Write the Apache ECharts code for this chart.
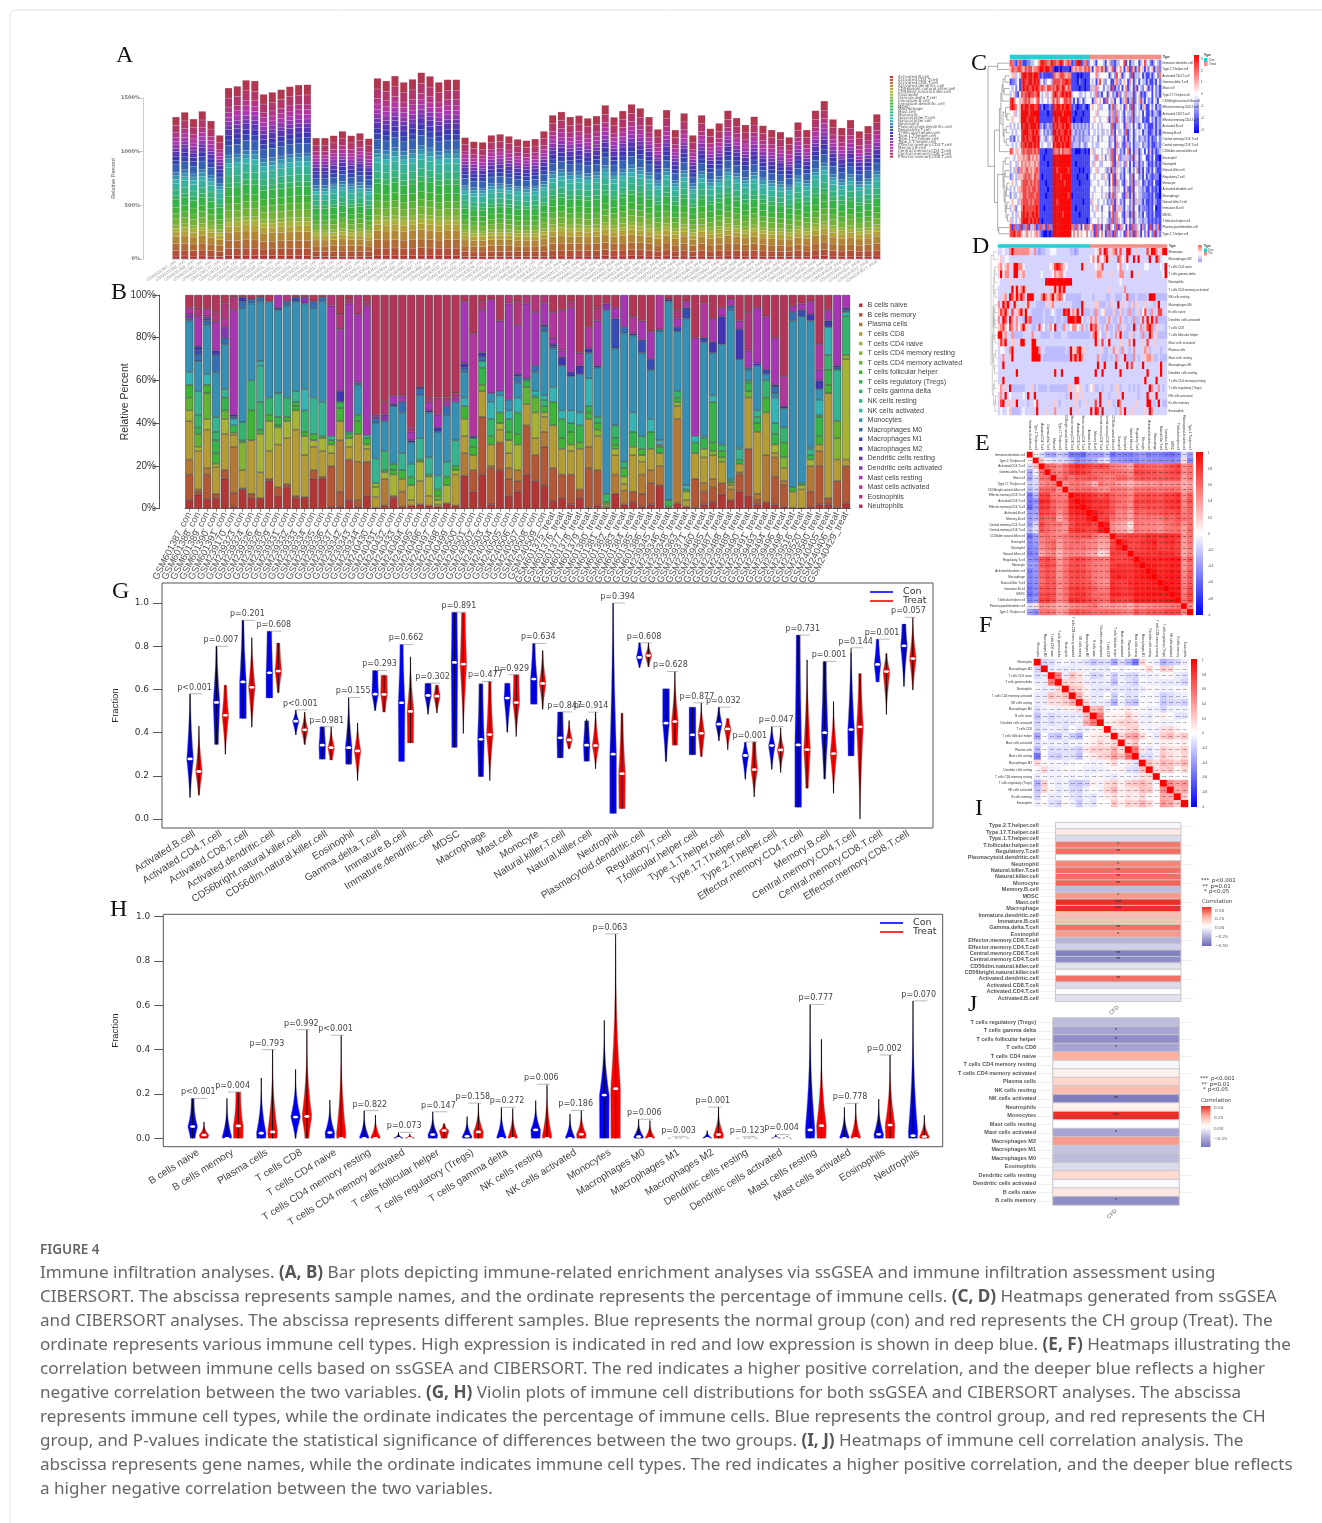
<!DOCTYPE html>
<html><head><meta charset="utf-8">
<style>html,body{margin:0;padding:0;background:#fff}#c{width:1322px;height:1523px}</style>
<script src="https://cdn.jsdelivr.net/npm/echarts@6/dist/echarts.min.js"></script>
</head><body><div id="c"></div>
<script>
// ---------- DATA ----------
const ssgseaCells=['Activated.B.cell','Activated.CD4.T.cell','Activated.CD8.T.cell','Activated.dendritic.cell','CD56bright.natural.killer.cell','CD56dim.natural.killer.cell','Eosinophil','Gamma.delta.T.cell','Immature.B.cell','Immature.dendritic.cell','MDSC','Macrophage','Mast.cell','Monocyte','Natural.killer.T.cell','Natural.killer.cell','Neutrophil','Plasmacytoid.dendritic.cell','Regulatory.T.cell','T.follicular.helper.cell','Type.1.T.helper.cell','Type.17.T.helper.cell','Type.2.T.helper.cell','Effector.memory.CD4.T.cell','Memory.B.cell','Central.memory.CD4.T.cell','Central.memory.CD8.T.cell','Effector.memory.CD8.T.cell'];
const ciberCells=['B cells naive','B cells memory','Plasma cells','T cells CD8','T cells CD4 naive','T cells CD4 memory resting','T cells CD4 memory activated','T cells follicular helper','T cells regulatory (Tregs)','T cells gamma delta','NK cells resting','NK cells activated','Monocytes','Macrophages M0','Macrophages M1','Macrophages M2','Dendritic cells resting','Dendritic cells activated','Mast cells resting','Mast cells activated','Eosinophils','Neutrophils'];
const samplesCon=['GSM601387','GSM601388','GSM601389','GSM601390','GSM601391','GSM239170','GSM239323','GSM239324','GSM239326','GSM239328','GSM239329','GSM239331','GSM239332','GSM239333','GSM239334','GSM239335','GSM239336','GSM239337','GSM239342','GSM239343','GSM239344','GSM240430','GSM240431','GSM240432','GSM240433','GSM240494','GSM240495','GSM240496','GSM240497','GSM240498','GSM240499','GSM240500','GSM240501','GSM240502','GSM240503','GSM240504','GSM240505','GSM240506','GSM240507','GSM240508','GSM240509'];
const samplesTreat=['GSM601375','GSM601376','GSM601377','GSM601378','GSM601379','GSM601380','GSM601381','GSM601382','GSM601383','GSM601384','GSM601385','GSM601386','GSM239345','GSM239346','GSM239348','GSM239363','GSM239371','GSM239460','GSM239485','GSM239487','GSM239488','GSM239489','GSM239490','GSM239491','GSM239493','GSM239494','GSM239496','GSM239498','GSM239516','GSM239520','GSM239580','GSM240405','GSM240406','GSM240429'];
const samplesB=samplesCon.map(s=>s+'_con').concat(samplesTreat.map(s=>s+'_treat'));
const samplesA=samplesCon.concat(['GSM240510','GSM240511']).map(s=>s+'_con').concat(samplesTreat.concat(['GSM240430','GSM240431','GSM240432','GSM240433']).map(s=>s+'_treat'));
// Panel A: height of each bar (%) and the typical score of each layer
const barTotalsA=[1323,1367,1304,1376,1286,1152,1593,1609,1665,1659,1534,1553,1578,1606,1621,1624,1127,1127,1149,1190,1149,1171,1121,1683,1659,1705,1646,1674,1736,1702,1646,1671,1671,1131,1093,1087,1152,1162,1143,1115,1103,1118,1190,1339,1370,1323,1336,1311,1332,1432,1320,1379,1441,1404,1323,1208,1388,1202,1357,1152,1339,1214,1264,1382,1314,1249,1326,1242,1202,1183,1134,1273,1202,1382,1472,1301,1221,1295,1190,1239,1348];
const layerScoreA=[27.8,54,63.5,67.7,45.3,34.2,33,57.8,53.8,57.2,72.5,36.9,56,64.8,37.6,34.2,30,74.8,44.4,39,43.9,29.4,34,34.3,40,41.4,71.6,80.2];
// Panel B: per sample, [layer, cumulative top %, layer, cumulative top %, ...]
const stackB=[
[0,4,1,16,2,23,3,41,4,46,6,52,7,58,11,64,12,88,13,89,17,91,19,94,21,100],
[0,6.5,1,8,2,9,3,27,4,29,6,35,8,38,9,44,10,55,12,69,13,72,14,74,15,76,18,90,20,94,21,100],
[0,4.5,1,16,2,19,3,37,4,42,6,54,7,58,11,63,12,86,13,88,14,89,17,90,19,93.5,21,100],
[0,5,1,7,3,19.5,4,21,7,26,8,32,9,36,10,43,12,64,13,72,15,74,18,87.5,20,92,21,100],
[0,14,1,18,3,35,4,42,6,46,8,52,10,56,12,77,13,80,17,85,19,89,20,96,21,100],
[0,1,1,7.5,2,29,3,34.5,4,35.5,8,39,11,42,13,43,15,44,18,93,20,99,21,100],
[0,9,1,9.5,3,18,5,31,8,32,9,40.5,12,94,13,97,15,99,21,100],
[0,5,1,7,3,32,7,46,9,60,12,96,13,98,21,100],
[0,5,3,17,4,35,7,37,9,50,10,67,11,69,12,97,13,99,21,100],
[0,13,1,14,3,27,4,41,7,44,9,52,12,97,21,100],
[0,6,1,10,3,30,4,38,7,39,8,43,10,54,12,93,14,94,18,100],
[0,10,1,11.5,3,33,4,41,7,43,9,52,12,95,13,97,20,100],
[0,5,1,6,3,37,4,46,7,48,8,50,10,55,12,97,14,99,21,100],
[0,5.5,3,25,4,34,7,36,9,46,11,56,12,96,17,99,21,100],
[0,14,1,18,3,29,4,32,7,35,10,52,12,94,13,97,21,100],
[0,14,1,15,3,27,4,33,7,34,10,50,12,97,13,99,21,100],
[0,1,1,20,3,26,4,30,7,32,10,34,18,95,20,100],
[0,1,1,8,2,32,3,41,7,47,8,50,15,55,18,84,20,91,21,100],
[0,4,1,23,3,29,4,33,7,35,10,36,18,96,20,98,21,100],
[0,1,1,4,2,22,3,35,7,41,8,44,12,58,13,59,18,91,20,100],
[0,6,1,22,3,28,4,30,7,33,10,34.5,18,95,20,97,21,100],
[0,0.5,3,5.5,4,10,5,12,10,23.5,12,40,13,42,17,43,18,44,21,100],
[0,1.5,2,14,4,17,7,18,9,27,12,41,17,44,20,50,21,100],
[0,5,1,6,4,16,7,18,8,21,12,48,15,49,18,53,21,100],
[0,1,2,8,3,14,7,18,10,26,12,45,13,50,18,53,21,100],
[0,1.5,3,4,4,11,8,15,10,21,12,31,15,32,18,36,20,38,21,100],
[0,2,3,13,4,22,7,23,10,33,12,53,13,56,15,57,21,100],
[0,1.5,3,6,4,15,7,16,10,24,12,45,15,46,18,50,20,52,21,100],
[0,1,3,2,4,4,6,6,7,9,10,15.5,12,36,15,38,18,44,20,52,21,100],
[0,2.5,4,11,7,15,10,22,12,44,13,48,18,50,20,52,21,100],
[0,1.5,3,16,4,18,7,20,10,32,12,50,18,52,20,54,21,100],
[0,15.5,2,26,3,34,4,42,7,48,11,52,12,64,13,66,15,68,18,97,21,100],
[0,8,1,18,3,25,7,29,8,33,15,34,19,82,21,100],
[0,16,1,43,3,55,6,58,8,66,10,69,13,71,15,73,18,93,20,97,21,100],
[0,2,1,19,2,20,3,30,7,34,9,42,11,50,12,54,18,98,21,100],
[0,18,1,31,3,37,4,40,7,45,11,53,12,55,18,88,21,100],
[0,6,1,14,2,19,3,26,4,32,7,36,8,42,11,46,12,51,18,96,20,100],
[0,8,1,13,2,18,4,30,7,35,8,45,11,52,12,59,13,62,15,63,18,86,20,97,21,100],
[0,16,1,39,3,49,6,57,8,60,13,61,18,96,20,100],
[0,13,1,25,3,33,4,45,6,52,9,53,11,55,12,64,13,67,18,92,20,100],
[0,11,1,29,2,36,3,43,4,45,7,48,9,51,11,53,12,83,13,85,15,86,18,96,20,100],
[0,3.5,1,19,3,39,7,50,11,57,12,75,13,76,15,77,18,80,19,92,21,100],
[0,5,1,16,3,28,7,33,8,42,11,46,12,67,15,71,18,74,19,93,21,100],
[0,2,1,16,3,27,4,30,7,36,8,40,11,46,12,62,15,64,18,94,20,97,21,100],
[0,5,1,9,3,28,6,31,8,39,11,45,12,63,15,67,19,73,21,100],
[0,0.5,1,19,2,29,3,42,7,45,8,48,11,61,12,73,15,75,19,85,21,100],
[0,1.5,1,18,3,34,5,37,7,40,9,43,12,66,15,67,18,88,20,94,21,100],
[0,0.5,3,1,4,2,6,3,9,7,12,93,17,96,21,100],
[0,7,2,16,3,25,4,28,7,30,8,33,9,39,12,75,14,89,18,94,21,100],
[0,2,2,8.5,3,11.5,4,15,7,19,9,22,12,82,13,85,18,100],
[0,3,1,8,3,25,4,29,8,36,11,45,12,81,15,82,19,90,21,100],
[0,1,1,7,2,16,3,22,4,25,7,28,9,34,12,73,14,79,18,88,21,100],
[0,2,1,12,2,18,3,28,8,36,11,42,12,65,14,70,18,83,21,100],
[0,11,2,20,3,26,8,29,9,30,11,32,12,83,13,84,19,100],
[0,0.5,5,1,8,4,12,97,15,98,21,100],
[0,2.5,2,42,3,48,5,50,8,52,9,55,12,83,14,85,18,89,20,93,21,100],
[0,1,3,4,4,8,8,9,11,11,12,89,14,94,18,97,21,100],
[0,0.5,1,14,3,26,8,31,11,34,18,80,21,100],
[0,2,1,8,2,12,3,24,4,28,8,33,11,34,12,78,14,80,19,96,21,100],
[0,3,1,10,2,14,3,25,5,27,7,31,8,50,11,53,12,73,15,78,18,89,21,100],
[0,6.5,1,12,3,22,5,24,7,27,9,30,12,77,15,90,18,94,21,100],
[0,4,2,9,3,11,4,12,8,13,10,14,12,93,13,95,18,98,21,100],
[0,8,1,16,2,17,3,21,8,23,10,28,11,29,12,70,15,84,18,88,21,100],
[0,6,1,28,3,52,6,55,8,59,9,60,12,65,13,66,18,74,20,92,21,100],
[0,2,1,4,2,7,3,36,7,40,9,43,10,46,12,67,15,68,18,94,21,100],
[0,3,2,25,3,45,7,52,9,60,12,63,14,65,18,90,21,100],
[0,2,1,15,2,24,3,26,4,30,8,35,9,40,11,52,12,54,13,57,15,58,18,80,21,100],
[0,1,1,11,2,13,3,19,5,24,7,31,9,38,12,47,15,48,19,62,21,100],
[0,0.5,3,8,7,10,12,88,13,92,18,95,21,100],
[0,0.3,3,9,4,11,8,12,12,90,14,93,18,96,21,100],
[0,1,1,8,2,20,4,23,8,25,10,28,11,29,12,88,15,91,18,97,21,100],
[0,2,1,20,2,27,3,30,7,34,8,43,9,44,11,51,12,56,15,60,18,65,19,77,21,100],
[0,2,1,5,3,54,7,58,8,65,9,72,11,85,15,88,18,93,21,100],
[0,0.5,1,13,3,23,5,33,6,41,10,65,13,66,15,67,18,100],
[0,2.5,1,20,3,23,4,70,5,72,9,90,11,92,13,93,15,94,18,100]];
// Panel C heatmap: one digit per sample, 0 deep blue .. 4 white .. 8 deep red
const rowsC=['Immature.dendritic.cell','Type.2.T.helper.cell','Activated.CD4.T.cell','Gamma.delta.T.cell','Mast.cell','Type.17.T.helper.cell','CD56bright.natural.killer.cell','Effector.memory.CD8.T.cell','Activated.CD8.T.cell','Effector.memory.CD4.T.cell','Activated.B.cell','Memory.B.cell','Central.memory.CD4.T.cell','Central.memory.CD8.T.cell','CD56dim.natural.killer.cell','Eosinophil','Neutrophil','Natural.killer.cell','Regulatory.T.cell','Monocyte','Activated.dendritic.cell','Macrophage','Natural.killer.T.cell','Immature.B.cell','MDSC','T.follicular.helper.cell','Plasmacytoid.dendritic.cell','Type.1.T.helper.cell'];
const cellsC=[
"762167 2112233445 7877668 7767875676 1278812672 4431444314 5221334471 4133441347 34213432",
"576677 6576775667 8878877 1001011110 6565665767 5146657516 4371546415 6175137451 52451362",
"455345 7887887887 1211111 7656776566 1110101111 4446344444 1342745134 4271333413 11313426",
"122341 7877887878 3423443 7777677877 1110211011 4341574324 4115632454 1641341433 13113142",
"434241 7878778787 6765776 7687687576 1111011011 3536344243 5171324146 1341614324 51314231",
"345214 7677877678 4345345 7876787878 3444334344 3436231441 5423162436 3351245121 34414231",
"786445 5676755467 4344345 7576457767 3141341344 4135454172 4351441356 1361243731 42314314",
"787645 8788788778 1201121 8788787887 1210112101 4544533444 1372543416 4271343135 11424132",
"445345 8888788888 1111011 8888878888 1101110111 4445344444 2362634314 3361343414 11313321",
"454445 8887888788 1111111 7887888878 1011101111 4454434445 1362734315 3261333412 11423132",
"343434 8788788878 2312322 8787787887 3232323232 4344343444 4271334416 3341431342 31113132",
"434344 7888778787 3423232 8878778878 3323232332 4434343343 4261433427 1341343413 31123131",
"231434 7878778878 3432343 7887878787 3233232333 4344243444 2351544315 1341342332 31312242",
"434345 7787887878 4344334 8788787887 2333243234 4343344444 2341634216 3241333423 31311232",
"764554 6767776767 1110111 7667576667 1100011010 4534443443 5271542314 6141351341 41513123",
"443455 5656756565 1101111 8888888888 1111111111 4436345424 5271462335 3261541344 11314110",
"344354 6565655656 1111011 8888888888 1101111111 4354433444 4371353426 4141351324 31213121",
"343526 6567565676 1111111 8878888878 1111010111 3445344432 5162543314 3142461314 21314211",
"234355 5676765766 1011111 8888788888 1110111101 4434443543 1471542314 4261442314 13212220",
"454344 6777676767 1110111 8888887888 1111011111 3444344434 1471634215 4261353412 31214110",
"343455 6776767767 1111011 8888888888 1111111111 4434443444 2462534415 2161443323 11312120",
"243345 5776777677 1110111 8888888878 0111111111 4344443435 1372544216 3151543322 21213110",
"454435 6777676777 1111111 8878888888 1111110111 3544344342 3261542314 4251353313 11213211",
"345244 6877777787 1101111 8888888888 1101111111 4345342444 2471535314 3251441322 21214011",
"434354 7878778787 1111111 8888878888 1111011111 4434443444 1372644215 3161542314 21213111",
"534345 7888787878 1011111 8888888888 1111111101 3444343443 2272634315 4251343323 31212121",
"717227 1267153612 7261722 8888888888 6272514726 4617261427 1542716341 5172634162 41715261",
"778677 5456454565 2100101 8888888888 4646454464 3517246416 2617243417 5261735142 51427152"];
// Panel D heatmap
const rowsD=['Monocytes','Macrophages M2','T cells CD4 naive','T cells gamma delta','Neutrophils','T cells CD4 memory activated','NK cells resting','Macrophages M0','B cells naive','Dendritic cells activated','T cells CD8','T cells follicular helper','Mast cells activated','Plasma cells','Mast cells resting','Macrophages M1','Dendritic cells resting','T cells CD4 memory resting','T cells regulatory (Tregs)','NK cells activated','B cells memory','Eosinophils'];
const cellsD=[
"3343368666 6666536212 2334443333 33221233333 3345738735 6737338833 53333758863588",
"4534433333 3333333333 3333333333 33333333333 4647346853 3376438338 38333383386344",
"5645635886 6433333333 3334578765 43333338353 3345573333 3346334333 33334433333438",
"3846633883 5633333334 3333465664 33333333333 3356653335 3336633383 35333333333348",
"4333353333 3333333333 3888888888 88833333333 3333333333 3334333333 33333333333333",
"3333338385 6853333333 3333585868 33333333333 3333333353 3333363333 33333333333333",
"3356387586 8638883336 8656856764 22222223333 3233333223 3222337222 32222388822222",
"6386823853 3357333222 2535633333 33322228533 3355222325 3383533252 53335333258333",
"5768537356 8583322222 3223432228 78365838222 3262345222 5225232622 35247326337733",
"6387386363 3286722222 3222232232 28887884233 6363222363 2236322326 22373858272222",
"5675476364 6853322373 4236482326 33466436323 8675323622 3262532238 23625786253332",
"8856336222 2333363332 2223322233 32222222222 3685422532 3638322352 33262386352222",
"3768335533 8833388533 3333333333 33333333333 3385373383 3335333638 33353733533333",
"3443368333 3333388863 3222222222 32855785533 3333352233 6352633236 33336523333233",
"3363358333 3333388883 2222222222 22868686333 3336322232 3623382226 32335665223222",
"3383333333 3333333333 3333333333 33333333333 3338338333 3833338373 33383333333833",
"3333333383 3333333333 3333383383 33333333333 3383383333 3338333333 33333833333833",
"3383333333 3333333333 3333333333 33338833333 3333333333 3333333333 33338333383333",
"4635382222 2233352322 2232222222 25535453323 4522323332 3552333232 32333386336323",
"3638343333 3438338333 3333333333 23835535333 3333833323 3353833333 32333835383333",
"3783535383 3332334733 3333353233 33335323353 3373833353 2386333333 53333883238322",
"3433452222 3433333833 3533363333 33833533333 8387383333 3236383353 33335386333333"];
const dendroC=[[0,1,.55],[2,3,.2],[4,5,.25],[29,30,.3],[31,6,.35],[8,9,.12],[7,33,.18],[10,11,.15],[12,13,.15],[35,36,.25],[34,37,.3],[32,38,.4],[39,14,.47],[15,16,.2],[17,18,.2],[19,20,.12],[21,43,.15],[22,23,.12],[24,25,.1],[45,46,.16],[44,47,.2],[42,48,.25],[41,49,.3],[26,27,.5],[50,51,.55],[40,52,.7],[28,53,1]];
const dendroD=[[2,3,.4],[22,4,.5],[5,6,.35],[23,24,.55],[7,8,.4],[9,10,.35],[26,27,.5],[11,12,.4],[28,29,.55],[25,30,.65],[13,14,.3],[15,16,.45],[32,33,.55],[31,34,.7],[17,18,.5],[19,20,.3],[37,21,.4],[36,38,.6],[35,39,.8],[0,1,.6],[41,40,1]];
// Panel E correlations (x100), lower triangle
const rowsE=rowsC;
const corrE=[[],[3],[-10,14],[-25,-5,45],[-27,-10,42,42],[-15,-10,30,36,35],[-20,-12,44,46,48,26],[-45,-21,61,62,40,38,36],[-45,-35,73,70,50,40,43,78],[-50,-30,67,65,48,36,42,76,85],[-30,-27,60,56,51,30,43,70,79,76],[-30,-22,52,45,49,20,36,64,68,66,82],[-30,-12,58,45,42,38,30,55,67,66,67,57],[-20,-8,52,45,38,30,28,62,69,66,58,60,78],[-48,-30,38,44,38,33,40,48,52,50,52,42,30,32],[-38,-30,34,42,46,25,37,42,45,40,34,33,24,24,58],[-40,-33,30,38,45,22,36,44,40,42,36,32,20,22,60,72],[-42,-36,22,32,35,18,28,34,34,32,24,22,8,12,62,60,56],[-36,-36,54,62,50,25,40,56,62,58,50,42,40,38,64,58,58,62],[-30,-30,50,58,54,26,40,54,58,52,44,38,36,34,62,68,64,64,74],[-42,-32,47,56,50,28,42,58,62,58,48,40,35,36,72,70,68,68,74,78],[-40,-34,45,56,50,26,40,56,60,56,48,38,34,34,70,76,70,66,75,80,86],[-40,-36,42,50,50,32,38,54,56,54,50,38,30,28,68,62,60,70,75,72,74,75],[-46,-36,50,55,52,28,42,62,66,62,56,48,38,38,72,68,62,68,76,74,78,78,80],[-48,-38,55,60,55,30,42,62,68,66,54,44,42,40,72,72,66,68,82,80,84,84,84,82],[-40,-34,62,65,54,32,40,70,72,68,60,52,46,42,68,62,60,62,82,78,80,80,78,84,86],[-10,8,30,30,24,20,22,30,34,32,36,40,26,24,28,24,24,20,32,26,30,32,34,36,38,40],[-28,-38,40,42,38,24,30,48,54,48,46,42,42,44,42,40,36,34,52,44,50,52,50,58,60,58,32]];
// Panel F correlations (x100), lower triangle
const rowsF=['Monocytes','Macrophages M2','T cells CD4 naive','T cells gamma delta','Neutrophils','T cells CD4 memory activated','NK cells resting','Macrophages M0','B cells naive','Dendritic cells activated','T cells CD8','T cells follicular helper','Mast cells activated','Plasma cells','Mast cells resting','Macrophages M1','Dendritic cells resting','T cells CD4 memory resting','T cells regulatory (Tregs)','NK cells activated','B cells memory','Eosinophils'];
const corrF=[[],[-12],[-10,-6],[-5,-5,35],[-2,-6,-5,10],[-6,-6,15,10,15],[-5,-5,8,8,12,20],[-9,-4,-3,-5,4,4,10],[-17,-5,-12,-7,-6,-7,-6,15],[-12,-5,-10,-6,-8,-6,-4,20,38],[-10,-6,-4,-5,-8,0,-7,-5,2,4],[-26,0,-14,-18,-6,-14,-22,0,4,6,6],[-10,-4,-5,-3,-7,-3,-4,2,4,10,5,10],[-20,0,-10,-8,-8,-9,-14,6,12,12,10,20,8],[-45,0,-12,-14,-8,-8,-18,2,5,10,12,25,15,40],[10,2,-3,-2,-5,-2,0,-2,-4,-4,2,10,-2,5,-8],[-2,10,-5,-4,2,-2,-2,-5,-6,-4,-4,2,3,-8,-10,15],[-6,-2,-4,-4,-2,-4,-2,-4,-2,2,-4,-6,-3,-3,-4,8,8],[-22,12,-2,-6,-4,-14,-16,-12,4,-4,8,12,4,12,14,18,12,-2],[-16,10,2,-6,-4,-10,-12,-4,0,-4,10,18,4,8,8,15,14,-2,32],[-12,0,-6,-6,-2,-6,-10,-4,-8,-2,4,8,2,6,4,10,2,0,22,20],[-5,2,-8,-12,2,-4,-14,-4,-8,0,0,14,4,12,10,18,10,-2,26,22,12]];
// Panel G violins: [low, high, median, width at low end, width at high end]
const gCon=[[.10,.58,.278,.1,.1],[.345,.80,.54,.6,.2],[.465,.92,.635,1,.3],[.56,.87,.677,1,.7],[.39,.505,.453,.1,.1],[.277,.427,.342,.9,.7],[.253,.563,.33,.9,.05],[.502,.688,.578,.2,.8],[.266,.808,.538,.9,.5],[.485,.629,.572,.1,.9],[.331,.958,.725,.8,.8],[.196,.626,.369,.8,.6],[.402,.629,.56,.15,.8],[.532,.813,.648,1,.4],[.283,.496,.376,.9,.8],[.267,.464,.342,.8,.6],[.026,1.0,.30,1,.1],[.702,.816,.748,.2,.3],[.266,.603,.444,.2,1],[.297,.518,.39,1,1],[.362,.518,.439,.1,.2],[.184,.355,.294,.1,.3],[.23,.428,.34,.1,.1],[.054,.852,.343,1,.6],[.185,.73,.40,.3,.5],[.292,.793,.414,.9,.1],[.635,.833,.716,.5,.4],[.614,.903,.802,.1,.6]];
const gTreat=[[.11,.43,.22,.2,.02],[.30,.62,.48,.05,.4],[.425,.84,.61,.05,.02],[.585,.815,.685,.3,.5],[.345,.495,.413,.2,.1],[.273,.427,.33,.4,.02],[.178,.445,.315,.02,.02],[.495,.666,.577,.4,.9],[.352,.751,.498,.9,.02],[.491,.62,.569,.1,.5],[.396,.955,.717,.02,.6],[.178,.637,.391,.02,.4],[.382,.668,.539,.02,.8],[.508,.78,.628,.1,.1],[.325,.456,.366,.3,.05],[.233,.495,.34,.02,.1],[.048,.49,.21,.9,.3],[.705,.816,.757,.2,.05],[.342,.683,.451,.8,.02],[.289,.538,.397,.3,.02],[.321,.465,.417,.02,.4],[.102,.357,.229,.02,.5],[.215,.423,.32,.02,.02],[.142,.737,.321,.4,.02],[.119,.544,.303,.02,.02],[0,.674,.427,0,.4],[.484,.767,.683,0,.2],[.598,.934,.743,.1,.02]];
const gP=['p<0.001','p=0.007','p=0.201','p=0.608','p<0.001','p=0.981','p=0.155','p=0.293','p=0.662','p=0.302','p=0.891','p=0.477','p=0.929','p=0.634','p=0.847','p=0.914','p=0.394','p=0.608','p=0.628','p=0.877','p=0.032','p=0.001','p=0.047','p=0.731','p=0.001','p=0.144','p=0.001','p=0.057'];
// Panel H violins
const hCon=[[0,.18,.053,.5,.3],[0,.18,.0,.9,.02],[0,.272,.023,.9,.02],[0,.311,.096,.1,.02],[0,.173,.026,.9,.02],[0,.125,0,.9,.02],[0,.027,0,.9,.02],[0,.12,.017,.9,.02],[0,.098,.009,.9,.02],[0,.14,0,.9,.02],[0,.17,.038,.9,.02],[0,.11,0,.9,.02],[0,.532,.195,.95,.02],[0,.086,.008,.9,.02],[0,.007,0,.9,.02],[0,.035,0,.5,.02],[0,.004,0,.9,.02],[0,.017,0,.9,.02],[0,.604,.038,.9,.02],[0,.14,0,.9,.02],[0,.177,.018,.9,.02],[0,.62,.012,.9,.02]];
const hTreat=[[0,.074,.015,.8,.02],[0,.209,.056,.95,.5],[0,.40,.029,.9,.02],[0,.49,.099,.4,.02],[0,.465,0,.9,.02],[0,.105,0,.9,.02],[0,.02,0,.9,.02],[0,.066,.035,.6,.2],[0,.159,.029,.9,.02],[0,.135,0,.9,.02],[0,.244,0,.9,.02],[0,.126,.018,.9,.02],[0,.922,.224,.95,.02],[0,.08,0,.9,.02],[0,.004,0,.9,.02],[0,.141,.017,.9,.02],[0,.007,0,.9,.02],[0,.009,0,.9,.02],[0,.447,.057,.9,.02],[0,.158,0,.9,.02],[0,.376,.06,.9,.02],[0,.104,.008,.9,.02]];
const hP=['p<0.001','p=0.004','p=0.793','p=0.992','p<0.001','p=0.822','p=0.073','p=0.147','p=0.158','p=0.272','p=0.006','p=0.186','p=0.063','p=0.006','p=0.003','p=0.001','p=0.123','p=0.004','p=0.777','p=0.778','p=0.002','p=0.070'];
// Panel I / J
const rowsI=['Type.2.T.helper.cell','Type.17.T.helper.cell','Type.1.T.helper.cell','T.follicular.helper.cell','Regulatory.T.cell','Plasmacytoid.dendritic.cell','Neutrophil','Natural.killer.T.cell','Natural.killer.cell','Monocyte','Memory.B.cell','MDSC','Mast.cell','Macrophage','Immature.dendritic.cell','Immature.B.cell','Gamma.delta.T.cell','Eosinophil','Effector.memory.CD8.T.cell','Effector.memory.CD4.T.cell','Central.memory.CD8.T.cell','Central.memory.CD4.T.cell','CD56dim.natural.killer.cell','CD56bright.natural.killer.cell','Activated.dendritic.cell','Activated.CD8.T.cell','Activated.CD4.T.cell','Activated.B.cell'];
const valuesI=[-.03,.07,-.12,.36,.38,.01,.34,.38,.38,.40,-.22,.30,.50,.50,.22,.20,.38,.30,-.25,-.15,-.42,-.38,-.10,-.01,.38,-.12,-.01,-.10];
const starsI=['','','','*','**','','*','**','**','**','','*','***','***','','','**','*','','','**','**','','','**','','',''];
const rowsJ=['T cells regulatory (Tregs)','T cells gamma delta','T cells follicular helper','T cells CD8','T cells CD4 naive','T cells CD4 memory resting','T cells CD4 memory activated','Plasma cells','NK cells resting','NK cells activated','Neutrophils','Monocytes','Mast cells resting','Mast cells activated','Macrophages M2','Macrophages M1','Macrophages M0','Eosinophils','Dendritic cells resting','Dendritic cells activated','B cells naive','B cells memory'];
const valuesJ=[-.22,-.30,-.38,-.30,.26,-.03,.05,.14,.22,-.43,.05,.50,0,-.30,.30,-.20,-.22,-.12,.12,-.02,.08,-.38];
const starsJ=['','*','*','*','','','','','','**','','***','','*','','','','','','','','*'];
const captionLines=[
"Immune infiltration analyses. {b|(A, B)} Bar plots depicting immune-related enrichment analyses via ssGSEA and immune infiltration assessment using",
"CIBERSORT. The abscissa represents sample names, and the ordinate represents the percentage of immune cells. {b|(C, D)} Heatmaps generated from ssGSEA",
"and CIBERSORT analyses. The abscissa represents different samples. Blue represents the normal group (con) and red represents the CH group (Treat). The",
"ordinate represents various immune cell types. High expression is indicated in red and low expression is shown in deep blue. {b|(E, F)} Heatmaps illustrating the",
"correlation between immune cells based on ssGSEA and CIBERSORT. The red indicates a higher positive correlation, and the deeper blue reflects a higher",
"negative correlation between the two variables. {b|(G, H)} Violin plots of immune cell distributions for both ssGSEA and CIBERSORT analyses. The abscissa",
"represents immune cell types, while the ordinate indicates the percentage of immune cells. Blue represents the control group, and red represents the CH",
"group, and P-values indicate the statistical significance of differences between the two groups. {b|(I, J)} Heatmaps of immune cell correlation analysis. The",
"abscissa represents gene names, while the ordinate indicates immune cell types. The red indicates a higher positive correlation, and the deeper blue reflects",
"a higher negative correlation between the two variables."];
const colorbarTicksC=['3','2','1','0','-1','-2','-3'];
const colorbarTicksEF=['1','0.8','0.6','0.4','0.2','0','-0.2','-0.4','-0.6','-0.8','-1'];
const colorbarTicksI=['0.50','0.25','0.00','\u22120.25','\u22120.50'];
const colorbarTicksJ=['0.50','0.25','0.00','\u22120.25'];

// ---------- HELPERS ----------
const SANS='"Liberation Sans",Arial,sans-serif', WIDE='"DejaVu Sans",sans-serif', SERIF='"Liberation Serif",serif', CAP='"Noto Sans",sans-serif';
function rainbow(n){const out=[];for(let i=0;i<n;i++){const h=i/n*6,s=.7,v=.7,k=Math.floor(h),f=h-k,p=v*(1-s),q=v*(1-s*f),t=v*(1-s*(1-f));
 const c=[[v,t,p],[q,v,p],[p,v,t],[p,q,v],[t,p,v],[v,p,q]][k%6];out.push('rgb('+c.map(x=>Math.round(x*255)).join(',')+')');}return out;}
const grid=[],xAxis=[],yAxis=[],series=[],visualMap=[],elements=[];
function panel(g,x,y){const i=grid.length;grid.push(g);xAxis.push(Object.assign({gridIndex:i},x));
 const ys=Array.isArray(y)?y:[y];const yi=yAxis.length;ys.forEach(a=>yAxis.push(Object.assign({gridIndex:i},a)));return {x:i,y:yi};}
function text(t,x,y,o){elements.push({type:'text',x,y,silent:true,style:Object.assign({text:t,fontFamily:SANS,fontSize:10,fill:'#333',align:'left',verticalAlign:'middle'},o||{})});}
function cbar(x,y,w,h,stops){elements.push({type:'rect',silent:true,shape:{x,y,width:w,height:h},style:{fill:{type:'linear',x:0,y:0,x2:0,y2:1,colorStops:stops.map((c,i)=>({offset:i/(stops.length-1),color:c}))}}});}
const decode=arr=>arr.map(s=>s.replace(/ /g,''));
function heatData(rows){const d=[];rows.forEach((r,y)=>{for(let x=0;x<r.length;x++)d.push([x,y,+r[x]]);});return d;}
function symData(tri){const n=tri.length,d=[];for(let r=0;r<n;r++)for(let c=0;c<n;c++){const v=r===c?100:(r>c?tri[r][c]:tri[c][r]);d.push([c,r,(v==null?0:v)/100]);}return d;}
function dendroSegs(m,n){const pos={};for(let i=0;i<n;i++)pos[i]=[0,i];const segs=[];m.forEach((t,k)=>{const a=pos[t[0]],b=pos[t[1]],h=t[2];segs.push([a[0],a[1],h,a[1]],[b[0],b[1],h,b[1]],[h,a[1],h,b[1]]);pos[n+k]=[h,(a[1]+b[1])/2];});return segs;}
const heatAxis=(names,pos,o)=>Object.assign({type:'category',data:names,position:pos,axisLine:{show:false},axisTick:{show:false},splitLine:{show:false},axisLabel:{interval:0,fontSize:3,margin:1.5,color:'#333',fontFamily:SANS}},o||{});

// ---------- PANEL A ----------
const colA=rainbow(28),sumA=layerScoreA.reduce((a,b)=>a+b,0);
let p=panel({left:171.6,top:98,width:709.6,height:161},
 {type:'category',data:samplesA,axisLine:{lineStyle:{color:'#ddd'}},axisTick:{show:false},axisLabel:{interval:0,rotate:34,fontSize:4.5,margin:2,color:'#999',fontFamily:SANS}},
 {type:'value',min:0,max:1500,interval:500,offset:28.6,axisLine:{show:true,lineStyle:{color:'#ccc'}},axisTick:{show:true,length:3,lineStyle:{color:'#ccc'}},splitLine:{show:false},axisLabel:{fontSize:5,margin:3,color:'#777',fontWeight:'bold',fontFamily:WIDE,formatter:v=>v+'%'},name:'Relative Percent',nameLocation:'middle',nameRotate:90,nameGap:27,nameMoveOverlap:false,nameTextStyle:{fontSize:5.5,color:'#555',fontFamily:SANS}});
ssgseaCells.forEach((n,i)=>series.push({name:n,type:'bar',stack:'A',clip:false,xAxisIndex:p.x,yAxisIndex:p.y,barWidth:7.2,itemStyle:{color:colA[i],borderColor:'rgba(60,60,60,.22)',borderWidth:.3},data:barTotalsA.map(t=>t*layerScoreA[i]/sumA)}));

// ---------- PANEL B ----------
const colB=rainbow(22);
const matB=colB.map(()=>samplesB.map(()=>null));
stackB.forEach((b,s)=>{let prev=0;for(let k=0;k<b.length;k+=2){matB[b[k]][s]=b[k+1]-prev;prev=b[k+1];}});
p=panel({left:184.9,top:295,width:665.6,height:213.7},
 {type:'category',data:samplesB,axisLine:{lineStyle:{color:'#888'}},axisTick:{show:true,length:3,alignWithLabel:true,lineStyle:{color:'#888'}},axisLabel:{interval:0,rotate:63,fontSize:9.6,margin:4,color:'#555',fontFamily:SANS}},
 {type:'value',min:0,max:100,interval:20,offset:25.9,axisLine:{show:true,lineStyle:{color:'#555'}},axisTick:{show:true,length:6,lineStyle:{color:'#555'}},splitLine:{show:false},axisLabel:{fontSize:10,margin:3,color:'#333',fontFamily:SANS,formatter:v=>v+'%'},name:'Relative Percent',nameLocation:'middle',nameRotate:90,nameGap:28,nameMoveOverlap:false,nameTextStyle:{fontSize:10.5,color:'#333',fontFamily:SANS}});
ciberCells.forEach((n,i)=>series.push({name:n,type:'bar',stack:'B',xAxisIndex:p.x,yAxisIndex:p.y,barWidth:8.1,itemStyle:{color:colB[i],borderColor:'rgba(40,40,40,.9)',borderWidth:.5},data:matB[i]}));

// ---------- PANEL C ----------
const rC=decode(cellsC),nConC=43,rampC=['#0000ff','#4040ff','#8080ff','#bfbfff','#ffffff','#ffbfbf','#ff8080','#ff4040','#ff0000'];
p=panel({left:1010,top:60,width:151,height:177},{type:'category',data:samplesA,show:false},heatAxis(rowsC,'right',{inverse:true}));
visualMap.push({type:'continuous',show:false,seriesIndex:series.length,min:0,max:8,dimension:2,inRange:{color:rampC}});
series.push({type:'heatmap',xAxisIndex:p.x,yAxisIndex:p.y,itemStyle:{borderColor:'rgba(150,150,150,.45)',borderWidth:.25},data:heatData(rC)});
function typeBar(g,cols,nCon,label,fs){const q=panel(g,{type:'category',data:cols,show:false},heatAxis([label],'right',{axisLabel:{interval:0,fontSize:fs,margin:2,color:'#333',fontWeight:'bold',fontFamily:SANS}}));
 series.push({type:'heatmap',xAxisIndex:q.x,yAxisIndex:q.y,data:cols.map((c,i)=>({value:[i,0,i<nCon?0:1],itemStyle:{color:i<nCon?'#1fd0d0':'#f28e86'}}))});}
typeBar({left:1010,top:55,width:151,height:4},samplesA,nConC,'Type',3);
p=panel({left:988,top:60,width:21.5,height:177},{type:'value',min:0,max:1,inverse:true,show:false},{type:'value',min:-.5,max:27.5,inverse:true,show:false});
const dendroRender=(w)=>(params,api)=>{const a=api.coord([api.value(0),api.value(1)]),b=api.coord([api.value(2),api.value(3)]);return {type:'line',shape:{x1:a[0],y1:a[1],x2:b[0],y2:b[1]},style:{stroke:'#777',lineWidth:w}};};
series.push({type:'custom',xAxisIndex:p.x,yAxisIndex:p.y,renderItem:dendroRender(.6),silent:true,data:dendroSegs(dendroC,28)});
cbar(1194,55,5,78,['#ff0000','#ffffff','#0000ff']);
colorbarTicksC.forEach((t,i)=>text(t,1201,59+i*11.8,{fontSize:3}));
text('Type',1204,55,{fontSize:3,fontWeight:'bold'});
[['Con','#1fd0d0'],['Treat','#f28e86']].forEach((t,i)=>{elements.push({type:'rect',silent:true,shape:{x:1204,y:58+i*4,width:3.5,height:4},style:{fill:t[1]}});text(t[0],1209,60+i*4,{fontSize:3});});

// ---------- PANEL D ----------
const rD=decode(cellsD),rampD=['#7878ff','#9a9aff','#bcbcff','#d4d4ff','#f5f5ff','#ffc8c8','#ff8c8c','#ff4040','#ff0000'];
p=panel({left:998,top:248,width:169,height:167},{type:'category',data:samplesB,show:false},heatAxis(rowsD,'right',{inverse:true}));
visualMap.push({type:'continuous',show:false,seriesIndex:series.length,min:0,max:8,dimension:2,inRange:{color:rampD}});
series.push({type:'heatmap',xAxisIndex:p.x,yAxisIndex:p.y,data:heatData(rD)});
typeBar({left:998,top:244.5,width:169,height:3},samplesB,41,'Type',3);
p=panel({left:991,top:248,width:6.5,height:167},{type:'value',min:0,max:1,inverse:true,show:false},{type:'value',min:-.5,max:21.5,inverse:true,show:false});
series.push({type:'custom',xAxisIndex:p.x,yAxisIndex:p.y,renderItem:dendroRender(.35),silent:true,data:dendroSegs(dendroD,22)});
cbar(1198,245,4,17,['#ff6060','#ffffff','#a0a0ff']);
text('Type',1204,246,{fontSize:3,fontWeight:'bold'});
[['Con','#1fd0d0'],['Tre','#f28e86']].forEach((t,i)=>{elements.push({type:'rect',silent:true,shape:{x:1204,y:248.5+i*3.5,width:3,height:3.5},style:{fill:t[1]}});text(t[0],1208,250+i*3.5,{fontSize:3});});

// ---------- PANEL E, F ----------
const rampCorr=['#0000ff','#3838ff','#6868ff','#a8a8ff','#ffffff','#ff9a9a','#ff5656','#ff2222','#ff0000'];
function corrPanel(g,names,tri,fs){const q=panel(g,heatAxis(names,'top',{axisLabel:{interval:0,rotate:90,fontSize:fs,margin:2,color:'#333',fontFamily:SANS}}),heatAxis(names,'left',{inverse:true,axisLabel:{interval:0,fontSize:fs,margin:2,color:'#333',fontFamily:SANS}}));
 visualMap.push({type:'continuous',show:false,seriesIndex:series.length,min:-1,max:1,dimension:2,inRange:{color:rampCorr}});
 series.push({type:'heatmap',xAxisIndex:q.x,yAxisIndex:q.y,data:symData(tri),label:{show:true,fontSize:2,color:'#222',fontFamily:SANS,formatter:o=>o.value[2]===1?'1':o.value[2].toFixed(2)},itemStyle:{borderColor:'rgba(255,255,255,.3)',borderWidth:.2}});}
corrPanel({left:1027,top:452,width:166,height:163},rowsE,corrE,3);
cbar(1196,452,7,163,['#ff0000','#ffffff','#0000ff']);
colorbarTicksEF.forEach((t,i)=>text(t,1208,453+i*16.2,{fontSize:3}));
corrPanel({left:1034,top:659,width:154,height:148},rowsF,corrF,3);
cbar(1191,659,6,148,['#ff0000','#ffffff','#0000ff']);
colorbarTicksEF.forEach((t,i)=>text(t,1202,660+i*14.7,{fontSize:3}));

// ---------- PANELS G, H ----------
function violinRender(halfPx,pow){return (params,api)=>{
 const x=api.value(0),lo=api.value(1),hi=api.value(2),med=api.value(3),wL=api.value(4),wH=api.value(5);
 const mode=Math.max(med,lo+(hi-lo)*.03),N=22,L=[],R=[],c0=api.coord([x,0]);
 for(let k=0;k<=N;k++){const y=lo+(hi-lo)*k/N;let w;
  if(y<=mode){const t=(mode-lo)>1e-6?(mode-y)/(mode-lo):0;w=wL+(1-wL)*Math.pow(1-t,1.3);}
  else{const t=(y-mode)/(hi-mode);w=wH+(1-wH)*Math.pow(1-t,pow);}
  const py=api.coord([x,y])[1];L.push([c0[0]-w*halfPx,py]);R.unshift([c0[0]+w*halfPx,py]);}
 const top=api.coord([x,hi])[1],bot=api.coord([x,lo])[1],m=api.coord([x,med])[1];
 return {type:'group',children:[
  {type:'polygon',shape:{points:L.concat(R)},style:{fill:api.visual('color'),stroke:'#888',lineWidth:.4}},
  {type:'line',shape:{x1:c0[0],y1:top,x2:c0[0],y2:bot},style:{stroke:'#000',lineWidth:.9}},
  {type:'ellipse',shape:{cx:c0[0],cy:m,rx:2.7,ry:1.4},style:{fill:'#fff'}}]};};}
function pRender(labels,off){return (params,api)=>{const i=api.value(0),y=api.value(1),a=api.coord([i-off,y]),b=api.coord([i+off,y]),c=api.coord([i,y]);
 return {type:'group',children:[
  {type:'line',shape:{x1:a[0]+1,y1:a[1],x2:b[0]+3,y2:b[1]},style:{stroke:'#888',lineWidth:.6}},
  {type:'text',style:{text:labels[params.dataIndex],x:c[0],y:c[1]-2.2,align:'center',verticalAlign:'bottom',fontSize:8,fontFamily:WIDE,fill:'#444'}}]};};}
function violinPanel(g,names,yLim,xLim,con,trt,P,off,half,pow,ticks,rot,fs,legendTop,legendLeft,gap){
 const q=panel(g,{type:'value',min:xLim[0],max:xLim[1],axisLine:{show:false,onZero:false},axisTick:{show:false},splitLine:{show:false},
   axisLabel:{customValues:names.map((n,i)=>i),rotate:rot,fontSize:fs,margin:5,color:'#444',fontFamily:SANS,formatter:v=>names[v]}},
  {type:'value',min:yLim[0],max:yLim[1],axisLine:{show:false,onZero:false},splitLine:{show:false},axisTick:{show:true,customValues:ticks,length:9,lineStyle:{color:'#555'}},
   axisLabel:{customValues:ticks,fontSize:9,margin:13,color:'#333',fontFamily:WIDE,formatter:v=>v.toFixed(1)},
   name:'Fraction',nameLocation:'middle',nameRotate:90,nameGap:gap,nameMoveOverlap:false,nameTextStyle:{fontSize:9.5,color:'#222',fontFamily:SANS}});
 const mk=(arr,sign)=>arr.map((v,i)=>[i+sign*off].concat(v));
 const base={type:'custom',xAxisIndex:q.x,yAxisIndex:q.y,renderItem:violinRender(half,pow),encode:{x:0,y:[1,2]},silent:true};
 series.push(Object.assign({},base,{name:'Con',itemStyle:{color:'#0000ff'},data:mk(con,-1)}));
 series.push(Object.assign({},base,{name:'Treat',itemStyle:{color:'#ff0000'},data:mk(trt,1)}));
 series.push({type:'custom',xAxisIndex:q.x,yAxisIndex:q.y,silent:true,renderItem:pRender(P,off),encode:{x:0,y:1},data:names.map((n,i)=>[i,Math.max(con[i][1],trt[i][1])])});
 return {top:legendTop,left:legendLeft,orient:'vertical',selectedMode:false,icon:'rect',itemWidth:23,itemHeight:1.6,itemGap:-1,data:['Con','Treat'],textStyle:{fontSize:9.5,fontFamily:WIDE,color:'#333',padding:[0,0,0,5]},padding:0};
}
const lgG=violinPanel({left:162,top:583,width:771,height:245,show:true,borderColor:'#555',borderWidth:1},ssgseaCells,[-.0417,1.093],[-1.229,27.93],gCon,gTreat,gP,.168,3.4,1.6,[0,.2,.4,.6,.8,1],32,10.2,587,870,42);
const lgH=violinPanel({left:163.3,top:914.3,width:779.4,height:232.4,show:true,borderColor:'#555',borderWidth:1},ciberCells,[-.0376,1.0105],[-1.021,21.7],hCon,hTreat,hP,.165,5,2.4,[0,.2,.4,.6,.8,1],32,10.2,918,880,43);

// ---------- PANELS I, J ----------
const rampRow=['#6a6ab6','#b4b3da','#ffffff','#ffb4a4','#e8302a'];
function rowPanel(g,names,vals,stars,fs){
 const labelStyle={interval:0,fontSize:fs,margin:17,color:'#555',fontWeight:'bold',fontFamily:SANS};
 const q=panel(g,{type:'category',data:['CFD'],axisLine:{show:false},axisTick:{show:false},axisLabel:{rotate:45,fontSize:5.5,margin:5,color:'#666',fontFamily:SANS}},
  [{type:'category',data:names,inverse:true,position:'left',axisLine:{show:false},axisTick:{show:true,alignWithLabel:true,length:15,lineStyle:{color:'#eee'}},axisLabel:labelStyle,splitLine:{show:false}},
   {type:'category',data:names,inverse:true,position:'right',axisLine:{show:false},axisTick:{show:true,alignWithLabel:true,length:12,lineStyle:{color:'#eee'}},axisLabel:{show:false},splitLine:{show:false}}]);
 visualMap.push({type:'continuous',show:false,seriesIndex:series.length,min:-.5,max:.5,dimension:2,inRange:{color:rampRow}});
 series.push({type:'heatmap',xAxisIndex:q.x,yAxisIndex:q.y,data:vals.map((v,i)=>[0,i,v]),itemStyle:{borderColor:'#c8c8c8',borderWidth:1},label:{show:true,fontSize:5,color:'#222',fontFamily:SANS,formatter:o=>stars[o.dataIndex]}});}
rowPanel({left:1055.7,top:822.7,width:125,height:178.6},rowsI,valuesI,starsI,5.5);
rowPanel({left:1053,top:1018,width:126,height:187},rowsJ,valuesJ,starsJ,5.5);
function sigLegend(x,y0,dy,yc,barY,barH,ticks,tickY,tickD,stops){
 [['***','p<0.001'],['**','p=0.01'],['*','p<0.05']].forEach((t,i)=>{text(t[0],x+(i*1.5),y0+i*dy,{fontSize:5.5,fontFamily:WIDE,fill:'#333'});text(t[1],x+11-i*1.5,y0+i*dy,{fontSize:5.5,fontFamily:WIDE,fill:'#333'});});
 text('Correlation',x+1,yc,{fontSize:5.5,fontFamily:WIDE,fill:'#444'});
 cbar(x+1,barY,9.5,barH,stops);
 ticks.forEach((t,i)=>text(t,x+14,tickY+i*tickD,{fontSize:4.2,fontFamily:WIDE,fill:'#555'}));}
sigLegend(1201,880.5,5.6,902,907,39,colorbarTicksI,910.5,8.9,['#e8302a','#ffb4a4','#ffffff','#b4b3da','#6a6ab6']);
sigLegend(1200,1078.5,5.6,1101,1106,41,colorbarTicksJ,1108,10.4,['#e8302a','#ffb4a4','#ffffff','#b4b3da','#7a7abc']);

// ---------- CHROME ----------
elements.unshift({type:'rect',silent:true,shape:{x:10,y:10,width:1400,height:1600,r:6},style:{fill:'none',stroke:'#e2e2e2',lineWidth:1}});
[['A',116,56],['B',111,293],['C',971,64],['D',972,247],['E',975,444],['F',979,626],['G',112,592],['H',110,910],['I',975,809],['J',968,1005]].forEach(t=>text(t[0],t[1],t[2],{fontFamily:SERIF,fontSize:24,fill:'#111'}));
text('FIGURE 4',40,1250,{fontFamily:CAP,fontSize:13.5,fontWeight:600,fill:'#666'});
captionLines.forEach((l,i)=>text(l,40,1273+i*24,{fontFamily:CAP,fontSize:17.1,fill:'#666',rich:{b:{fontWeight:700,fontFamily:CAP,fontSize:17.1,fill:'#555'}}}));

const legend=[
 {left:890,top:75,orient:'vertical',selectedMode:false,icon:'rect',itemWidth:3,itemHeight:2,itemGap:-1.05,padding:0,itemStyle:{borderWidth:0},data:ssgseaCells,textStyle:{fontSize:4,fontFamily:WIDE,color:'#555',padding:0}},
 {left:859,top:300.5,orient:'vertical',selectedMode:false,icon:'rect',itemWidth:3.5,itemHeight:3.5,itemGap:0,padding:0,itemStyle:{borderWidth:0},data:ciberCells,textStyle:{fontSize:7.1,lineHeight:9.57,height:9.57,fontFamily:SANS,color:'#444',padding:0}},
 lgG,lgH];

const chart=echarts.init(document.getElementById('c'),null,{renderer:'canvas',width:1322,height:1523});
chart.setOption({animation:false,backgroundColor:'#fff',tooltip:{show:false},grid,xAxis,yAxis,series,visualMap,legend,graphic:{elements}});
</script></body></html>
